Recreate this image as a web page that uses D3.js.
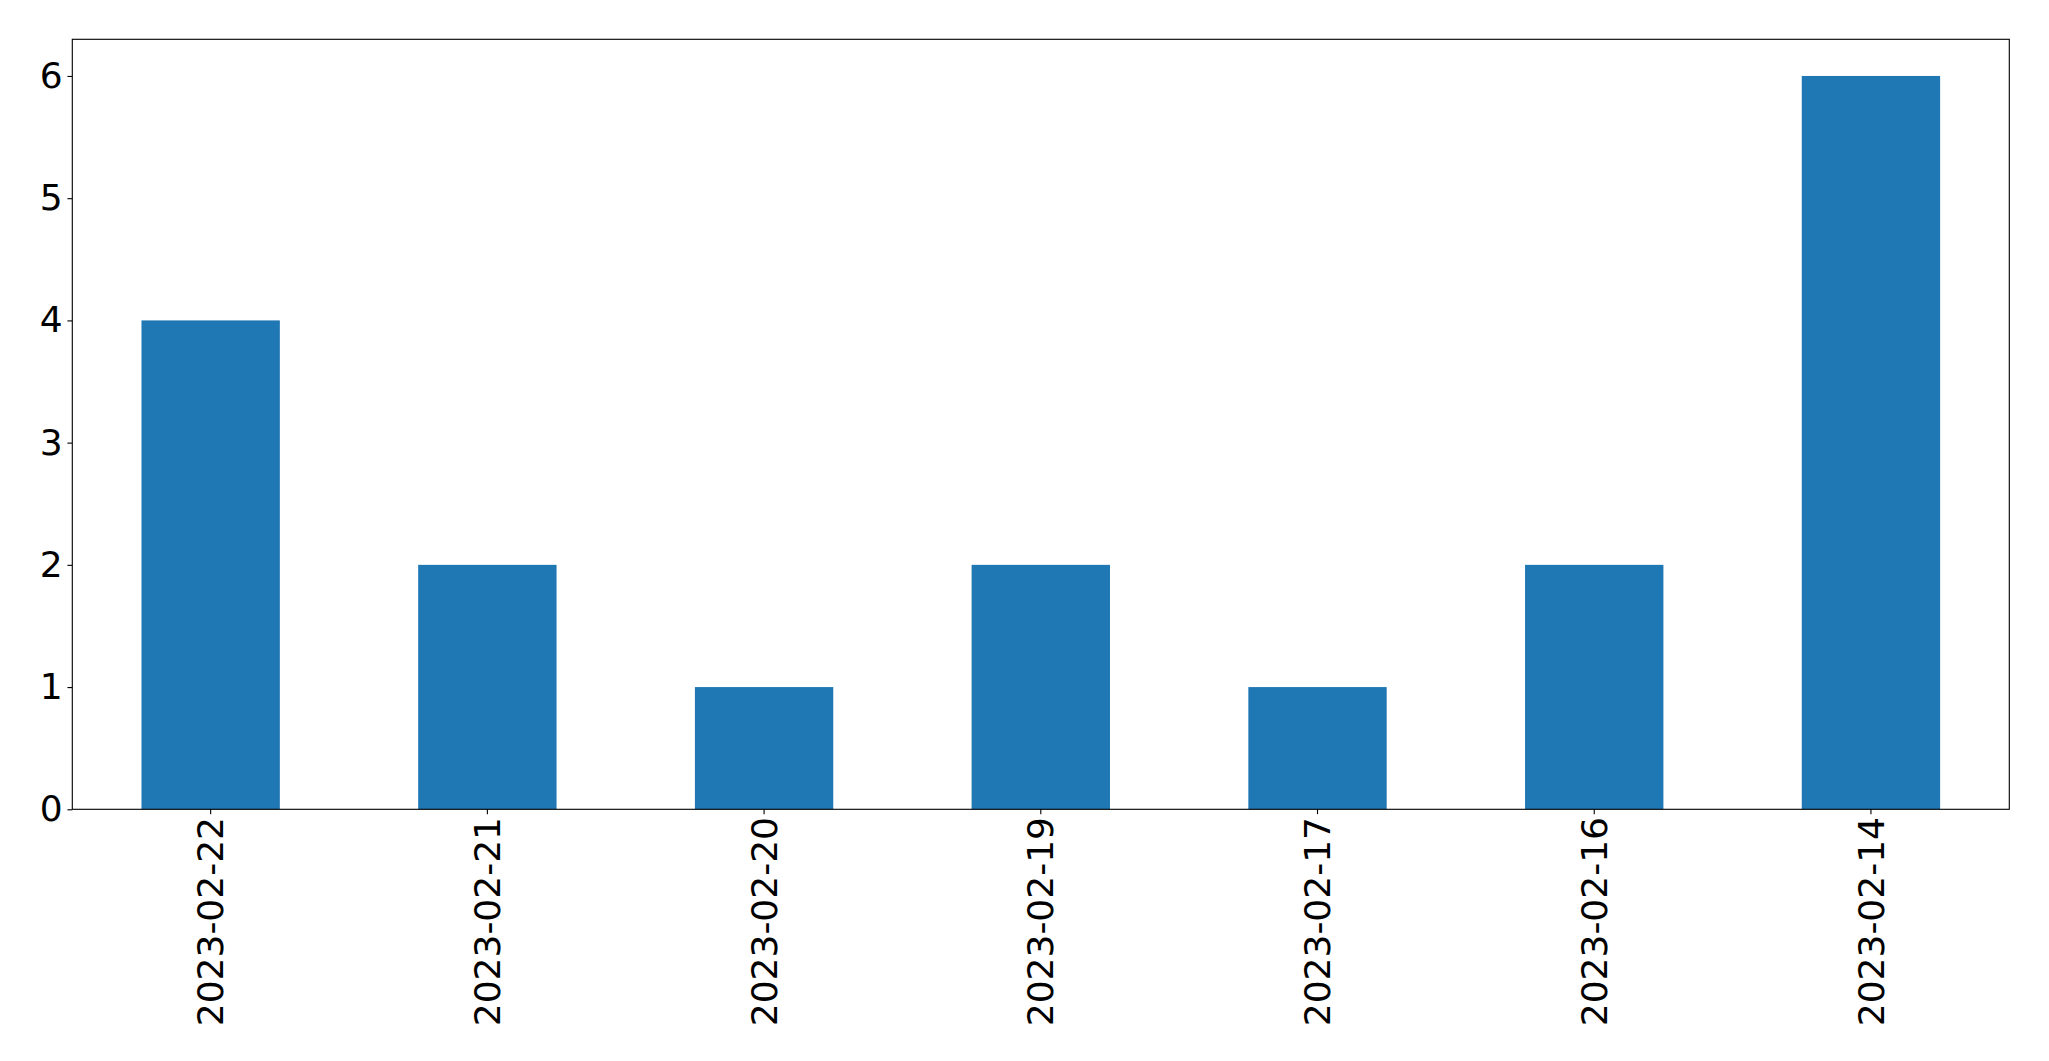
<!DOCTYPE html>
<html>
<head>
<meta charset="utf-8">
<script src="https://cdn.jsdelivr.net/npm/d3@7"></script>
<style>
html,body{margin:0;padding:0;background:#fff;}
svg{display:block;}
text{font-family:"DejaVu Sans",sans-serif;fill:#000;}
</style>
</head>
<body>
<script>
const categories = ["2023-02-22","2023-02-21","2023-02-20","2023-02-19","2023-02-17","2023-02-16","2023-02-14"];
const values = [4,2,1,2,1,2,6];
const yTicks = [0,1,2,3,4,5,6];

const W = 2049, H = 1061;
const m = {left:72.3, right:2009.3, top:39.3, bottom:809.3};
const fontSize = 36;
const tickLen = 4.86;
const pad = 4.86;

const svg = d3.select("body").append("svg").attr("width",W).attr("height",H);

const x = d3.scaleLinear().domain([-0.5, categories.length-0.5]).range([m.left, m.right]);
const y = d3.scaleLinear().domain([0, 6.3]).range([m.bottom, m.top]);
const barW = 0.5;

svg.append("g").selectAll("rect").data(values).join("rect")
  .attr("x",(d,i)=>x(i-barW/2))
  .attr("width",(d,i)=>x(i+barW/2)-x(i-barW/2))
  .attr("y",d=>y(d))
  .attr("height",d=>y(0)-y(d))
  .attr("fill","#1f77b4");

// frame
svg.append("rect").attr("x",m.left).attr("y",m.top)
  .attr("width",m.right-m.left).attr("height",m.bottom-m.top)
  .attr("fill","none").attr("stroke","#000").attr("stroke-width",1.11);

// y axis
const yAxis = d3.axisLeft(y).tickValues(yTicks).tickFormat(d3.format("d")).tickSize(tickLen).tickPadding(pad);
const gy = svg.append("g").attr("transform",`translate(${m.left},0)`).call(yAxis);
gy.select(".domain").remove();
gy.selectAll(".tick line").attr("stroke","#000").attr("stroke-width",1.11);
gy.selectAll(".tick text").attr("font-size",fontSize).attr("font-family","DejaVu Sans").attr("fill","#000");

// x axis
const xb = d3.scaleBand().domain(categories).range([x(-0.5), x(categories.length-0.5)]);
const xAxis = d3.axisBottom(xb).tickSize(tickLen).tickPadding(pad);
const gx = svg.append("g").attr("transform",`translate(0,${m.bottom})`).call(xAxis);
gx.select(".domain").remove();
gx.selectAll(".tick line").attr("stroke","#000").attr("stroke-width",1.11);
gx.selectAll(".tick text")
  .attr("font-size",fontSize).attr("font-family","DejaVu Sans").attr("fill","#000")
  .attr("transform","rotate(-90)")
  .attr("y",0).attr("x",-(tickLen+pad-2))
  .attr("dy","0.35em")
  .attr("text-anchor","end");
</script>
</body>
</html>
